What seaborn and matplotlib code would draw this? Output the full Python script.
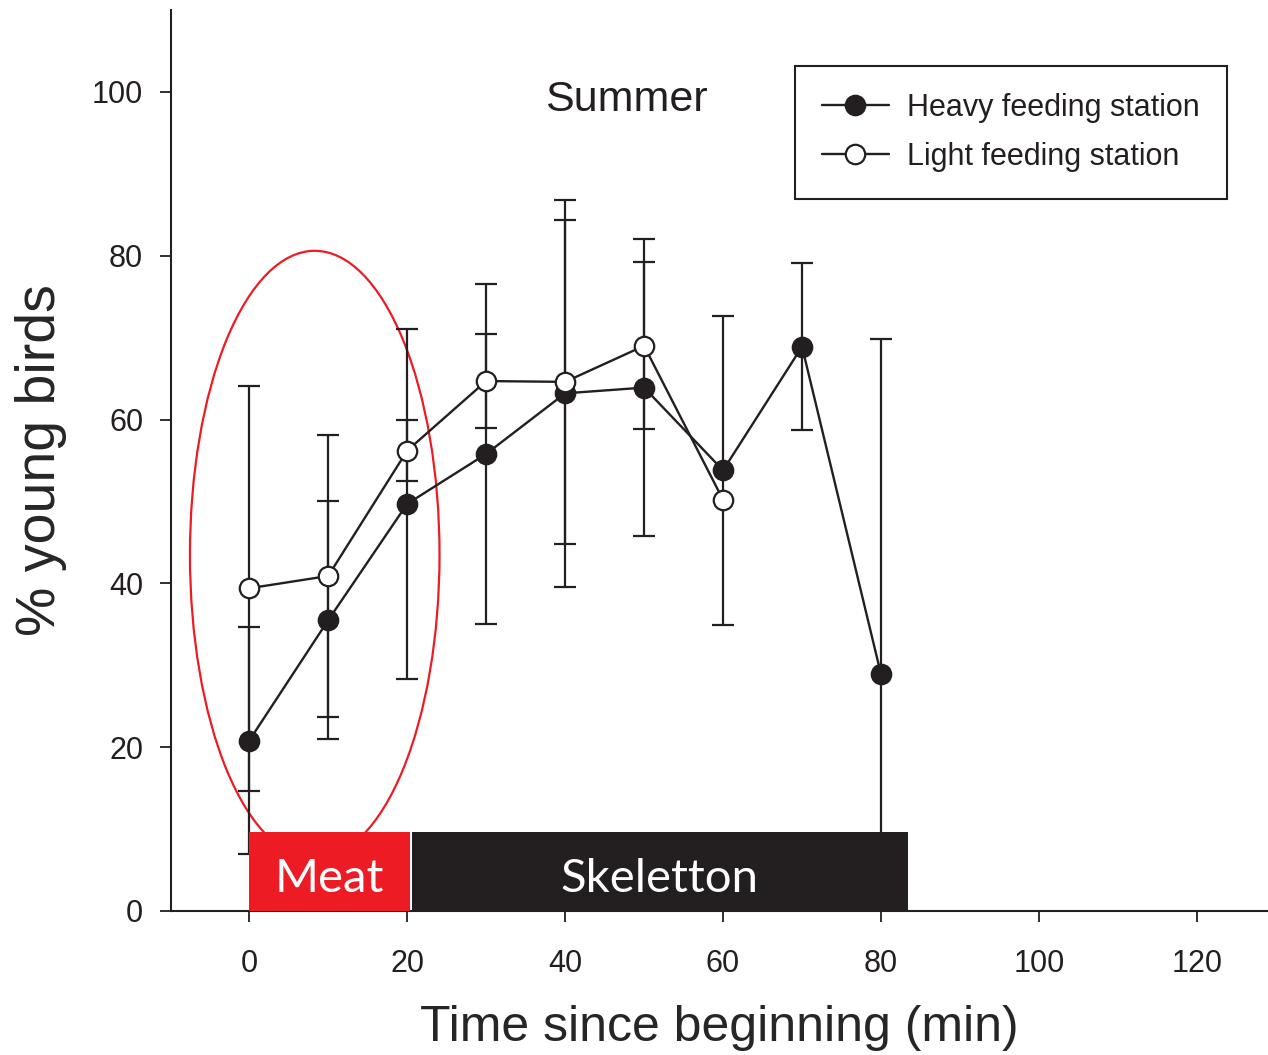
import numpy as np
import matplotlib
matplotlib.use("Agg")
import matplotlib.pyplot as plt
import matplotlib.patches as patches
import seaborn as sns

# --- data (mean +/- error, % young birds) ---
time = [0, 10, 20, 30, 40, 50, 60, 70, 80]
heavy_mean = [20.8, 35.5, 49.7, 55.8, 63.2, 63.9, 53.8, 68.9, 28.9]
heavy_err = [13.9, 14.5, 21.4, 20.8, 23.6, 18.1, 18.9, 10.2, 40.9]

light_time = [0, 10, 20, 30, 40, 50, 60]
light_mean = [39.4, 40.9, 56.2, 64.7, 64.6, 69.0, 50.2]
light_err = [24.7, 17.2, 3.7, 5.7, 19.8, 10.2, np.nan]

# food phases shown as bars along the bottom (start, end in min)
phase_names = ["Meat", "Skeletton"]
phase_start = [0, 20.6]
phase_end = [20.3, 83.4]
phase_height = 9.6

x_ticks = [0, 20, 40, 60, 80, 100, 120]
y_ticks = [0, 20, 40, 60, 80, 100]

BLACK = "#231f20"
RED = "#ed1c24"

sns.set_style("ticks")
plt.rcParams["font.family"] = ["Liberation Sans", "DejaVu Sans"]
plt.rcParams["text.color"] = BLACK

fig = plt.figure(figsize=(12.68, 10.55), dpi=100)
ax = fig.add_axes([171 / 1268, 144 / 1055, 1097 / 1268, 901 / 1055])

# highlight ellipse around the meat phase
ell = patches.Ellipse((8.3, 43.5), 31.6, 74.2, facecolor="none",
                      edgecolor=RED, linewidth=1.6, zorder=1)
ax.add_patch(ell)

# error bars
ax.errorbar(time, heavy_mean, yerr=heavy_err, fmt="none", ecolor=BLACK,
            elinewidth=1.6, capsize=8, capthick=1.6, zorder=2)
ax.errorbar(light_time, light_mean, yerr=light_err, fmt="none", ecolor=BLACK,
            elinewidth=1.6, capsize=8, capthick=1.6, zorder=2)

# mean lines
sns.lineplot(x=time, y=heavy_mean, ax=ax, color=BLACK, linewidth=1.7,
             marker="o", markersize=14, markerfacecolor=BLACK,
             markeredgecolor=BLACK, markeredgewidth=1.6,
             label="Heavy feeding station", zorder=3)
sns.lineplot(x=light_time, y=light_mean, ax=ax, color=BLACK, linewidth=1.7,
             marker="o", markersize=14, markerfacecolor="white",
             markeredgecolor=BLACK, markeredgewidth=1.6,
             label="Light feeding station", zorder=4)

# phase bars
for name, x0, x1, col in zip(phase_names, phase_start, phase_end, [RED, BLACK]):
    ax.add_patch(patches.Rectangle((x0, 0), x1 - x0, phase_height,
                                   facecolor=col, edgecolor="none", zorder=5))
    ax.text((x0 + x1) / 2, phase_height / 2 - 0.9, name, color="white",
            ha="center", va="center", fontsize=34, family="Lato", zorder=6)

ax.text(47.7, 99.0, "Summer", ha="center", va="center", fontsize=31)

# --- formatting ---
ax.set_xlim(-9.9, 129)
ax.set_ylim(0, 110)
ax.set_xticks(x_ticks)
ax.set_yticks(y_ticks)
ax.tick_params(axis="both", direction="out", length=8, width=1.3,
               colors=BLACK, labelsize=22)
ax.tick_params(axis="x", pad=19)
ax.tick_params(axis="y", pad=12)
for side in ["top", "right"]:
    ax.spines[side].set_visible(False)
for side in ["left", "bottom"]:
    ax.spines[side].set_linewidth(1.5)
    ax.spines[side].set_color(BLACK)

ax.set_xlabel("Time since beginning (min)", fontsize=36, labelpad=19)
ax.set_ylabel("% young birds", fontsize=40, labelpad=18)

leg = ax.legend(loc="upper right", bbox_to_anchor=(0.9626, 0.938),
                frameon=True, fancybox=False, edgecolor=BLACK, framealpha=1,
                fontsize=22, handlelength=2.2, handletextpad=0.6,
                borderpad=0.88, labelspacing=0.62, borderaxespad=0)
leg.get_frame().set_linewidth(1.5)
leg.set_zorder(10)

fig.savefig("out.png", dpi=100)
